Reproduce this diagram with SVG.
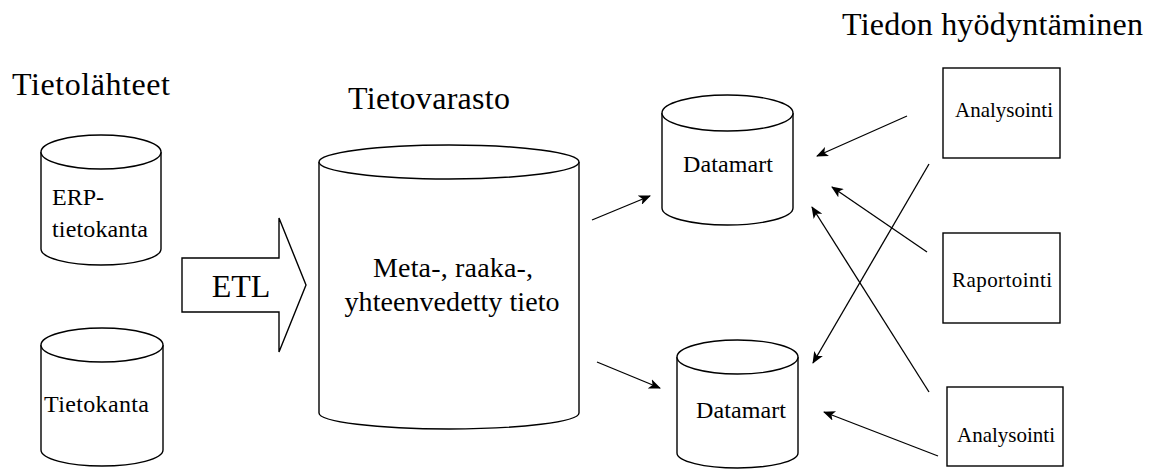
<svg xmlns="http://www.w3.org/2000/svg" width="1153" height="472" viewBox="0 0 1153 472">
<style>
.s{fill:#fff;stroke:#000;stroke-width:1.4}
text{font-family:'Liberation Serif','DejaVu Serif',serif;fill:#000}
.c{stroke:#000;stroke-width:1.3;fill:none}
</style>
<defs>
<marker id="ah" viewBox="0 0 12 10" refX="11" refY="5" markerWidth="12" markerHeight="10" markerUnits="userSpaceOnUse" orient="auto">
<path d="M0,0 L12,5 L0,10 L3,5 Z" fill="#000"/>
</marker>
</defs>
<rect width="1153" height="472" fill="#fff"/>
<g id="titles">
<text x="12" y="95" font-size="32" textLength="158">Tietolähteet</text>
<text x="348" y="109" font-size="32" textLength="162">Tietovarasto</text>
<text x="842" y="35" font-size="32" textLength="301">Tiedon hyödyntäminen</text>
</g>
<g id="src1">
<path class="s" d="M41,152 V249 A60,16 0 0 0 161,249 V152"/>
<ellipse class="s" cx="101" cy="152" rx="60" ry="17"/>
<text x="52" y="205" font-size="24">ERP-</text>
<text x="52" y="237" font-size="24" textLength="96">tietokanta</text>
</g>
<g id="src2">
<path class="s" d="M41,345 V450 A61,16 0 0 0 163,450 V345"/>
<ellipse class="s" cx="102" cy="345" rx="61" ry="17"/>
<text x="44" y="412" font-size="24" textLength="105">Tietokanta</text>
</g>
<g id="etl">
<path class="s" d="M182,258 H279 V218 L306,285 L279,352 V312 H182 Z"/>
<text x="241" y="297" font-size="32" text-anchor="middle">ETL</text>
</g>
<g id="dw">
<path class="s" d="M319,162 V413 A130,16 0 0 0 579,413 V162"/>
<ellipse class="s" cx="449" cy="162" rx="130" ry="17"/>
<text x="453" y="277" font-size="28" text-anchor="middle" textLength="160">Meta-, raaka-,</text>
<text x="452" y="311" font-size="28" text-anchor="middle" textLength="215">yhteenvedetty tieto</text>
</g>
<g id="dm1">
<path class="s" d="M662,113 V208 A65.5,17 0 0 0 793,208 V113"/>
<ellipse class="s" cx="727.5" cy="113" rx="65.5" ry="18"/>
<text x="728" y="172" font-size="24" text-anchor="middle" textLength="90">Datamart</text>
</g>
<g id="dm2">
<path class="s" d="M677,357 V453 A60.5,15 0 0 0 798,453 V357"/>
<ellipse class="s" cx="737.5" cy="357" rx="60.5" ry="17"/>
<text x="741" y="418" font-size="24" text-anchor="middle" textLength="90">Datamart</text>
</g>
<g id="an1">
<rect class="s" x="943" y="68" width="117" height="90"/>
<text x="955" y="117" font-size="21" textLength="98">Analysointi</text>
</g>
<g id="rap">
<rect class="s" x="943" y="233" width="117" height="90"/>
<text x="952" y="287" font-size="21" textLength="100">Raportointi</text>
</g>
<g id="an2">
<rect class="s" x="947" y="387" width="116" height="79"/>
<text x="957" y="442" font-size="21" textLength="98">Analysointi</text>
</g>
<g id="connectors">
<line class="c" x1="592" y1="220" x2="650" y2="196" marker-end="url(#ah)"/>
<line class="c" x1="597" y1="362" x2="660" y2="388" marker-end="url(#ah)"/>
<line class="c" x1="907" y1="116" x2="817" y2="156" marker-end="url(#ah)"/>
<line class="c" x1="927" y1="252" x2="832" y2="187" marker-end="url(#ah)"/>
<line class="c" x1="929" y1="392" x2="812" y2="207" marker-end="url(#ah)"/>
<line class="c" x1="929" y1="164" x2="813" y2="363" marker-end="url(#ah)"/>
<line class="c" x1="938" y1="456" x2="824" y2="412" marker-end="url(#ah)"/>
</g>
</svg>
